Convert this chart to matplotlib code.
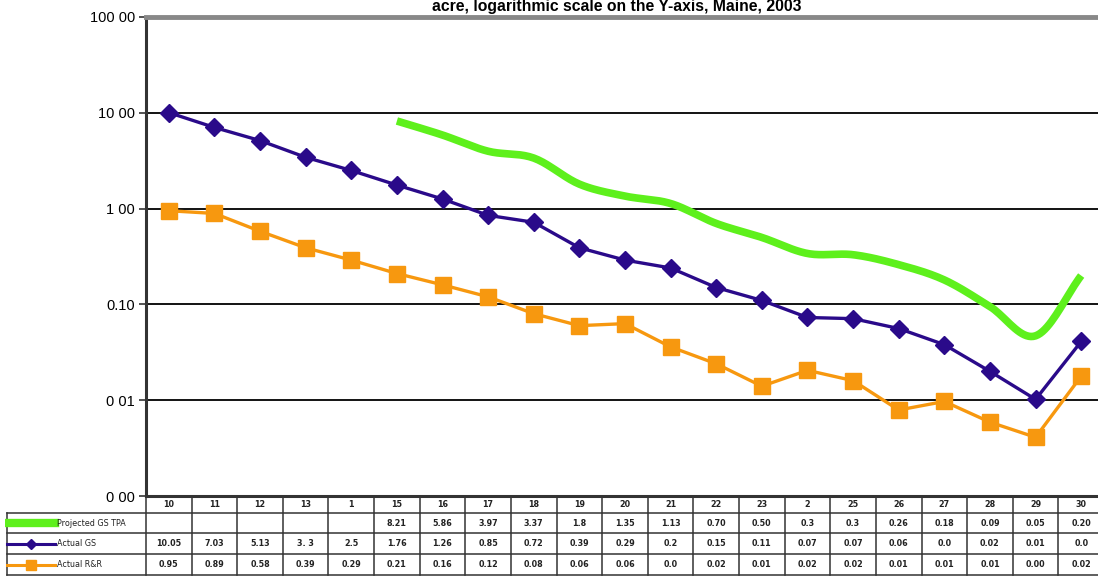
import numpy as np
import matplotlib.pyplot as plt
from matplotlib.lines import Line2D

# Data
diam = list(range(10, 31))
proj_x = list(range(15, 31))
proj_gs = [8.21, 5.86, 3.97, 3.37, 1.8, 1.35, 1.13, 0.70, 0.50, 0.34, 0.33, 0.26, 0.18, 0.095, 0.047, 0.20]
actual_gs = [10.05, 7.03, 5.13, 3.43, 2.5, 1.76, 1.26, 0.85, 0.72, 0.39, 0.29, 0.24, 0.15, 0.11,
             0.073, 0.071, 0.056, 0.038, 0.020, 0.0102, 0.041]
actual_rr = [0.95, 0.89, 0.58, 0.39, 0.29, 0.21, 0.16, 0.12, 0.08, 0.06, 0.063, 0.036, 0.024, 0.014,
             0.0205, 0.016, 0.0079, 0.0097, 0.0059, 0.0041, 0.0178]

# table text as printed on the chart
col_labels = ["10", "11", "12", "13", "1", "15", "16", "17", "18", "19", "20", "21", "22", "23",
              "2", "25", "26", "27", "28", "29", "30"]
txt_proj = ["", "", "", "", "", "8.21", "5.86", "3.97", "3.37", "1.8", "1.35", "1.13", "0.70",
            "0.50", "0.3", "0.3", "0.26", "0.18", "0.09", "0.05", "0.20"]
txt_gs = ["10.05", "7.03", "5.13", "3. 3", "2.5", "1.76", "1.26", "0.85", "0.72", "0.39", "0.29",
          "0.2", "0.15", "0.11", "0.07", "0.07", "0.06", "0.0", "0.02", "0.01", "0.0"]
txt_rr = ["0.95", "0.89", "0.58", "0.39", "0.29", "0.21", "0.16", "0.12", "0.08", "0.06", "0.06",
          "0.0", "0.02", "0.01", "0.02", "0.02", "0.01", "0.01", "0.01", "0.00", "0.02"]
row_names = ["Projected GS TPA", "Actual GS", "Actual R&R"]
y_ticks = [0.001, 0.01, 0.1, 1, 10, 100]
y_ticklabels = ["0 00", "0 01", "0.10", "1 00", "10 00", "100 00"]

green = "#5EF01C"
blue = "#2A0A8A"
orange = "#F7980F"


def smooth(xs, ys, n=20):
    # Catmull-Rom through the points (in log space), like Excel's smoothed line
    x = np.array(xs, float)
    y = np.log10(np.array(ys, float))
    px = np.concatenate([[2 * x[0] - x[1]], x, [2 * x[-1] - x[-2]]])
    py = np.concatenate([[2 * y[0] - y[1]], y, [2 * y[-1] - y[-2]]])
    ox, oy = [], []
    t = np.linspace(0, 1, n, endpoint=False)
    for i in range(1, len(px) - 2):
        for p, out in ((px, ox), (py, oy)):
            p0, p1, p2, p3 = p[i - 1], p[i], p[i + 1], p[i + 2]
            out.extend(0.5 * (2 * p1 + (-p0 + p2) * t + (2 * p0 - 5 * p1 + 4 * p2 - p3) * t ** 2
                              + (-p0 + 3 * p1 - 3 * p2 + p3) * t ** 3))
    ox.append(x[-1])
    oy.append(y[-1])
    return np.array(ox), 10 ** np.array(oy)


W, H = 1098, 576
fig = plt.figure(figsize=(W / 100, H / 100), dpi=100)
plt.rcParams['font.family'] = ['Liberation Sans', 'DejaVu Sans']

L, R, T, B = 146, 1104, 17, 496
ax = fig.add_axes([L / W, 1 - B / H, (R - L) / W, (B - T) / H])
ax.set_yscale('log')
ax.set_ylim(0.001, 100)
ax.set_xlim(9.5, 30.5)

for v in [0.01, 0.1, 1, 10]:
    ax.axhline(v, color='black', lw=1.3, zorder=1)

sx, sy = smooth(proj_x, proj_gs)
ax.plot(sx, sy, color=green, lw=5.5, solid_capstyle='butt', zorder=2)
ax.plot(diam, actual_gs, color=blue, lw=2.4, marker='D', ms=9, zorder=3)
ax.plot(diam, actual_rr, color=orange, lw=2.4, marker='s', ms=12, zorder=3)

ax.set_yticks(y_ticks)
ax.set_yticklabels(y_ticklabels, fontsize=10.5)
ax.yaxis.set_minor_locator(plt.NullLocator())
ax.tick_params(axis='y', length=5, width=1.2, color='#333333', pad=3)
ax.set_xticks([])
ax.spines['top'].set_color('#888888')
ax.spines['top'].set_linewidth(3.5)
ax.spines['left'].set_color('#333333')
ax.spines['left'].set_linewidth(2.2)
ax.spines['right'].set_visible(False)
ax.spines['bottom'].set_color('#333333')
ax.spines['bottom'].set_linewidth(2.2)

# title line at the very top
fig.text(617 / W, 1 - 14 / H, "acre, logarithmic scale on the Y-axis, Maine, 2003",
         ha='center', va='bottom', fontsize=11.3, fontweight='bold')

# data table below the plot
px_per = (R - L) / 21.0
tl = 5
tax = fig.add_axes([tl / W, 1 - 576 / H, (R - tl) / W, (576 - B) / H])
x0 = 9.5 - (L - tl) / px_per
tax.set_xlim(x0, 30.5)
tax.set_ylim(3.85, 0)
tax.axis('off')

edges = [0, 0.8, 1.8, 2.8, 3.8]
lc = '#333333'
tax.plot([9.5, 30.5], [0, 0], color=lc, lw=2, clip_on=False)
for e in edges[1:]:
    tax.plot([x0 + 0.05, 30.5], [e, e], color=lc, lw=1.1)
tax.plot([x0 + 0.05, x0 + 0.05], [0.8, 3.8], color=lc, lw=1.1)
for c in np.arange(9.5, 31, 1.0):
    tax.plot([c, c], [0, 3.8], color=lc, lw=1.1)

tfs = 5.8
for i, d in enumerate(diam):
    tax.text(d, 0.4, col_labels[i], ha='center', va='center', fontsize=tfs, family='DejaVu Sans',
             fontweight='bold', color='#222222')
    for r, row in enumerate([txt_proj, txt_gs, txt_rr]):
        tax.text(d, 1.3 + r, row[i], ha='center', va='center', fontsize=tfs, family='DejaVu Sans',
                 fontweight='bold', color='#222222')

# legend keys in the label column
kx = [x0 + 0.05, x0 + 1.1]
mid = (kx[0] + kx[1]) / 2
tax.add_line(Line2D(kx, [1.3, 1.3], color=green, lw=6))
tax.add_line(Line2D(kx, [2.3, 2.3], color=blue, lw=2.2))
tax.add_line(Line2D([mid], [2.3], color=blue, marker='D', ms=5))
tax.add_line(Line2D(kx, [3.3, 3.3], color=orange, lw=2.2))
tax.add_line(Line2D([mid], [3.3], color=orange, marker='s', ms=7))
for r, name in enumerate(row_names):
    tax.text(kx[1] + 0.05, 1.3 + r, name, ha='left', va='center', fontsize=tfs,
             family='DejaVu Sans', color='#222222')

fig.savefig("out.png", dpi=100)
